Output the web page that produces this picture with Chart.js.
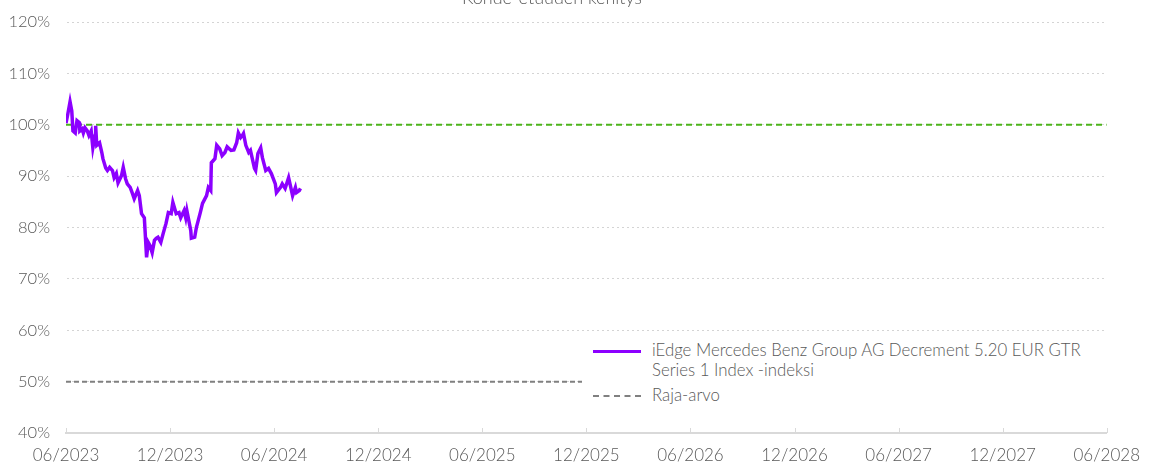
<!DOCTYPE html>
<html>
<head>
<meta charset="utf-8">
<script src="https://cdn.jsdelivr.net/npm/chart.js@4.4.1/dist/chart.umd.min.js"></script>
<style>
  html, body { margin: 0; padding: 0; background: #fff; }
  #wrap { position: relative; width: 1152px; height: 465px; }
  #legend {
    position: absolute; left: 582px; top: 339px; width: 528px; height: 70px;
    background: #fff; font-family: Lato, sans-serif; font-weight: 300;
    font-size: 16.8px; color: #595959; line-height: 20px;
  }
  .item { position: absolute; left: 11px; }
  .item .txt { position: absolute; left: 59px; top: 0; white-space: nowrap; }
  .sw { position: absolute; left: 0; width: 48px; }
</style>
</head>
<body>
<div id="wrap">
  <canvas id="chart" width="1152" height="465"></canvas>
  <div id="legend"></div>
</div>
<script>
const chartTitle = "Kohde-etuuden kehitys";
const seriesName = "iEdge Mercedes Benz Group AG Decrement 5.20 EUR GTR Series 1 Index -indeksi";
const barrierName = "Raja-arvo";

// x axis: months from 06/2023
const startYear = 2023, startMonth = 6;
const xTickLabels = ["06/2023", "12/2023", "06/2024", "12/2024", "06/2025", "12/2025",
                     "06/2026", "12/2026", "06/2027", "12/2027", "06/2028"];

const indexDates = [
  "2023-06-01", "2023-06-04", "2023-06-08", "2023-06-11", "2023-06-13", "2023-06-17", "2023-06-20",
  "2023-06-24", "2023-06-25", "2023-06-29", "2023-07-01", "2023-07-04", "2023-07-08", "2023-07-11",
  "2023-07-15", "2023-07-18", "2023-07-22", "2023-07-23", "2023-07-25", "2023-07-30", "2023-08-03",
  "2023-08-05", "2023-08-10", "2023-08-13", "2023-08-17", "2023-08-22", "2023-08-25", "2023-08-29",
  "2023-09-01", "2023-09-07", "2023-09-10", "2023-09-14", "2023-09-17", "2023-09-22", "2023-09-26",
  "2023-09-29", "2023-10-05", "2023-10-08", "2023-10-12", "2023-10-17", "2023-10-21", "2023-10-24",
  "2023-10-27", "2023-10-31", "2023-11-04", "2023-11-07", "2023-11-10", "2023-11-15", "2023-11-19",
  "2023-11-24", "2023-11-28", "2023-12-03", "2023-12-06", "2023-12-12", "2023-12-17", "2023-12-20",
  "2023-12-26", "2023-12-29", "2023-12-31", "2024-01-07", "2024-01-08", "2024-01-14", "2024-01-17",
  "2024-01-24", "2024-01-28", "2024-02-04", "2024-02-07", "2024-02-11", "2024-02-12", "2024-02-18",
  "2024-02-21", "2024-02-26", "2024-03-01", "2024-03-06", "2024-03-10", "2024-03-17", "2024-03-22",
  "2024-03-27", "2024-03-30", "2024-04-03", "2024-04-06", "2024-04-08", "2024-04-12", "2024-04-17",
  "2024-04-20", "2024-04-27", "2024-04-29", "2024-05-03", "2024-05-08", "2024-05-11", "2024-05-17",
  "2024-05-22", "2024-05-27", "2024-06-03", "2024-06-05", "2024-06-12", "2024-06-15", "2024-06-20",
  "2024-06-26", "2024-06-29", "2024-07-03", "2024-07-08", "2024-07-10", "2024-07-15", "2024-07-17"
];
const indexValues = [
  100.3, 102.0, 104.5, 102.7, 98.8, 98.4, 100.8,
  100.4, 98.8, 99.2, 98.4, 99.4, 98.8, 97.9,
  98.8, 95.5, 97.9, 99.8, 96.0, 96.5, 94.6,
  93.4, 91.6, 91.1, 91.7, 91.1, 89.7, 90.5,
  88.7, 90.1, 91.7, 89.5, 88.5, 87.8, 86.6,
  85.6, 87.2, 86.2, 82.7, 81.9, 74.2, 77.1,
  76.5, 75.1, 77.5, 77.9, 78.1, 77.1, 78.8,
  80.8, 82.9, 82.7, 84.9, 82.7, 82.9, 81.9,
  83.3, 81.9, 83.3, 79.4, 77.9, 78.1, 80.0,
  82.9, 84.7, 86.2, 87.8, 87.2, 92.6, 93.4,
  96.0, 95.3, 94.0, 94.6, 95.7, 95.0, 95.1,
  96.5, 98.4, 97.5, 97.9, 98.3, 96.0, 94.6,
  95.0, 91.5, 91.1, 94.4, 95.5, 93.6, 91.1,
  91.5, 90.5, 88.5, 86.8, 87.8, 88.5, 87.6,
  89.7, 88.2, 86.2, 87.8, 86.8, 87.2, 87.6
];

const startLevel = 100;   // green dashed
const barrierLevel = 50;  // grey dashed
const xMin = 0, xMax = 60;
const yMin = 40, yMax = 120, yStep = 10;

function monthsFromStart(s) {
  const [y, m, d] = s.split("-").map(Number);
  const dim = new Date(y, m, 0).getDate();
  return (y - startYear) * 12 + (m - startMonth) + (d - 1) / dim;
}

const indexPoints = indexDates.map((d, i) => ({ x: monthsFromStart(d), y: indexValues[i] }));

const FONT = "Lato, sans-serif";
const GREY_TXT = "#595959";

const extras = {
  id: "extras",
  afterDraw(chart) {
    const ctx = chart.ctx;
    const area = chart.chartArea;
    const xs = chart.scales.x;
    ctx.save();
    // upward tick marks on the x axis
    ctx.strokeStyle = "#d9d9d9";
    ctx.lineWidth = 1;
    for (let v = xMin; v <= xMax; v += 6) {
      const px = Math.round(xs.getPixelForValue(v)) + 0.5;
      ctx.beginPath();
      ctx.moveTo(px, area.bottom);
      ctx.lineTo(px, area.bottom - 5);
      ctx.stroke();
    }
    // title, mostly off the top edge
    ctx.fillStyle = GREY_TXT;
    ctx.font = "300 18px " + FONT;
    ctx.textAlign = "center";
    ctx.textBaseline = "alphabetic";
    ctx.fillText(chartTitle, 552, 4);
    ctx.restore();
  }
};

new Chart(document.getElementById("chart"), {
  type: "line",
  data: {
    datasets: [
      {
        label: seriesName,
        data: indexPoints,
        borderColor: "#8c00ff",
        borderWidth: 3.5,
        pointRadius: 0,
        tension: 0,
        order: 1
      },
      {
        label: "Alkutaso",
        data: [{ x: xMin, y: startLevel }, { x: xMax, y: startLevel }],
        borderColor: "#4cb41a",
        borderWidth: 2,
        borderDash: [6, 4],
        pointRadius: 0,
        order: 2
      },
      {
        label: barrierName,
        data: [{ x: xMin, y: barrierLevel }, { x: xMax, y: barrierLevel }],
        borderColor: "#808080",
        borderWidth: 2,
        borderDash: [5, 3],
        pointRadius: 0,
        order: 3
      }
    ]
  },
  options: {
    responsive: false,
    animation: false,
    layout: { padding: { top: 22, right: 39, left: 0, bottom: 0 } },
    plugins: {
      legend: { display: false },
      title: { display: false },
      tooltip: { enabled: false }
    },
    scales: {
      x: {
        type: "linear",
        min: xMin,
        max: xMax,
        afterFit(scale) { scale.height = 32; },
        afterBuildTicks(scale) {
          scale.ticks = xTickLabels.map((_, i) => ({ value: xMin + i * 6 }));
        },
        ticks: {
          color: GREY_TXT,
          font: { family: FONT, size: 17, weight: 300 },
          padding: 12,
          maxRotation: 0,
          callback: (v) => xTickLabels[Math.round(v / 6)]
        },
        grid: { display: false, drawTicks: false },
        border: { display: true, color: "#d9d9d9", width: 2 }
      },
      y: {
        min: yMin,
        max: yMax,
        afterFit(scale) {
          scale.width = 66;
          scale.paddingTop = 0;
          scale.paddingBottom = 0;
        },
        ticks: {
          stepSize: yStep,
          color: GREY_TXT,
          font: { family: FONT, size: 16.5, weight: 300 },
          padding: 16,
          callback: (v) => v + "%"
        },
        grid: { color: "#d4d4d4", lineWidth: 1, drawTicks: false },
        border: { display: true, color: "rgba(0,0,0,0)", dash: [2, 3] }
      }
    }
  },
  plugins: [extras]
});

// legend box with white background over the plot
const legend = document.getElementById("legend");
legend.innerHTML =
  '<div class="item" style="top:1px;height:40px">' +
    '<div class="sw" style="top:10px;border-top:3px solid #8c00ff"></div>' +
    '<div class="txt">' + seriesName.replace(" Series", "<br>Series") + '</div>' +
  '</div>' +
  '<div class="item" style="top:46px;height:20px">' +
    '<div class="sw" style="top:10px;border-top:2px dashed #808080"></div>' +
    '<div class="txt">' + barrierName + '</div>' +
  '</div>';
</script>
</body>
</html>
